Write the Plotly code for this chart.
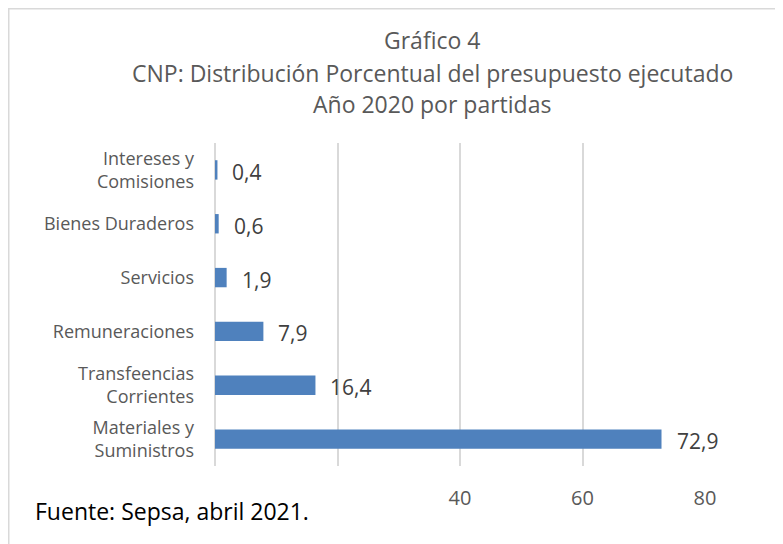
import plotly.graph_objects as go

categories = ["Intereses y<br>Comisiones", "Bienes Duraderos", "Servicios",
              "Remuneraciones", "Transfeencias<br>Corrientes", "Materiales y<br>Suministros"]
values = [0.4, 0.6, 1.9, 7.9, 16.4, 72.9]
value_labels = ["0,4", "0,6", "1,9", "7,9", "16,4", "72,9"]
tick_vals = [0, 20, 40, 60, 80]
tick_text = ["", "", "40", "60", "80"]
title_lines = ["Gráfico 4", "CNP: Distribución Porcentual del presupuesto ejecutado", "Año 2020 por partidas"]
source_text = "Fuente: Sepsa, abril 2021."

FONT = "Open Sans"
OFF = 8  # page body margin
W, H = 783 - OFF, 544 - OFF
L, R, T, B = 207, 78, 135, 78
pw, ph = W - L - R, H - T - B

def px_x(p):
    return (p - L) / pw

def px_y(p):
    return (H - B - p) / ph

fig = go.Figure(go.Bar(
    x=values, y=categories, orientation="h",
    marker=dict(color="#4F81BD", line=dict(width=0)),
    width=0.36, hoverinfo="skip",
))

annotations = []
for v, c, t in zip(values, categories, value_labels):
    annotations.append(dict(x=v, y=c, xref="x", yref="y", text=t, showarrow=False,
                            xanchor="left", yanchor="middle", xshift=13, yshift=-2,
                            font=dict(family=FONT, size=21, color="#404040")))

for line, yp in zip(title_lines, [32, 65, 96]):
    annotations.append(dict(x=px_x(424), y=px_y(yp), xref="paper", yref="paper", text=line,
                            showarrow=False, xanchor="center", yanchor="middle",
                            font=dict(family=FONT, size=23, color="#595959")))

annotations.append(dict(x=px_x(25), y=px_y(503), xref="paper", yref="paper", text=source_text,
                        showarrow=False, xanchor="left", yanchor="middle",
                        font=dict(family=FONT, size=23, color="#000000")))

fig.update_layout(
    width=W, height=H,
    margin=dict(l=L, r=R, t=T, b=B, pad=0),
    paper_bgcolor="white", plot_bgcolor="white",
    showlegend=False,
    annotations=annotations,
    shapes=[dict(type="rect", xref="paper", yref="paper",
                 x0=px_x(0.5), x1=px_x(800), y0=px_y(560), y1=px_y(0.5),
                 line=dict(color="#D9D9D9", width=2), fillcolor="rgba(0,0,0,0)", layer="below")],
    xaxis=dict(range=[0, 80], tickvals=tick_vals, ticktext=tick_text,
               showgrid=True, gridcolor="#D9D9D9", gridwidth=1.5,
               zeroline=True, zerolinecolor="#D9D9D9", zerolinewidth=1.5,
               showline=False, ticks="", ticklabelstandoff=18,
               tickfont=dict(family=FONT, size=20, color="#595959"), fixedrange=True),
    yaxis=dict(autorange="reversed", showgrid=False, zeroline=False, showline=False,
               ticks="", ticklabelstandoff=20,
               tickfont=dict(family=FONT, size=18, color="#595959"), fixedrange=True),
)

fig.write_html("out.html")
